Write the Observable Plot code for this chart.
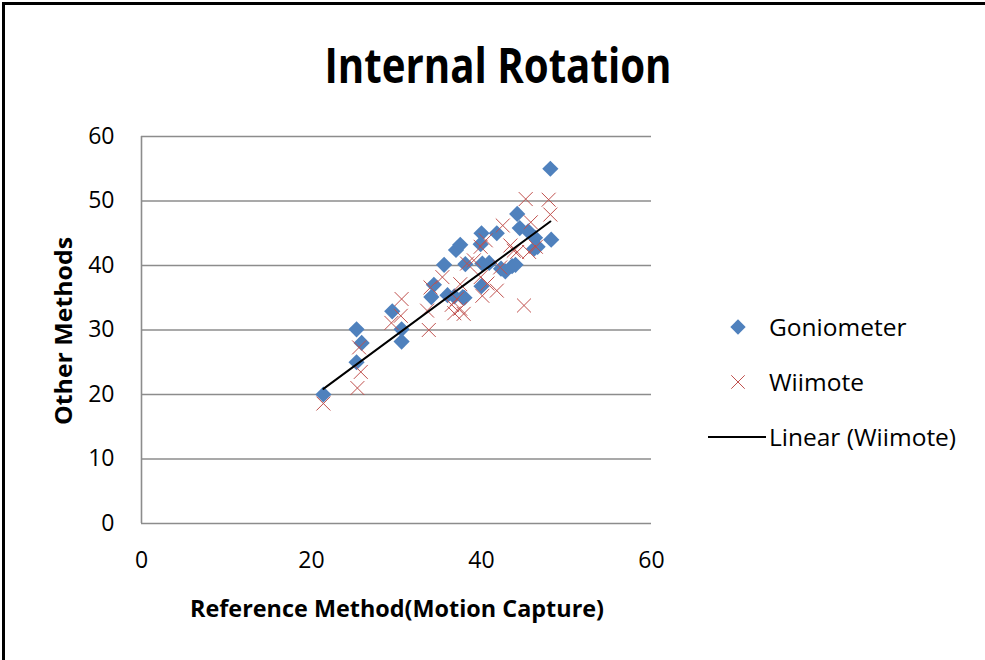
<!DOCTYPE html>
<html>
<head>
<meta charset="utf-8">
<script src="https://cdn.jsdelivr.net/npm/d3@7"></script>
<script src="https://cdn.jsdelivr.net/npm/@observablehq/plot@0.6"></script>
<style>
  html, body { margin: 0; padding: 0; background: #fff; overflow: hidden; }
  #wrap { position: relative; width: 985px; height: 660px; overflow: hidden; background: #fff; }
  #plot { position: absolute; left: 0; top: 0; }
  #overlay { position: absolute; left: 0; top: 0; pointer-events: none; }
  text { font-family: "Open Sans", sans-serif; }
</style>
</head>
<body>
<div id="wrap">
  <div id="plot"></div>
  <svg id="overlay" width="985" height="660"></svg>
</div>
<script>
// ---- Data ----
const chartTitle = "Internal Rotation";
const xLabel = "Reference Method(Motion Capture)";
const yLabel = "Other Methods";
const seriesNames = ["Goniometer", "Wiimote", "Linear (Wiimote)"];

const xTicks = [0, 20, 40, 60];
const yTicks = [0, 10, 20, 30, 40, 50, 60];

const goniometerX = [21.4, 25.3, 25.9, 25.3, 29.5, 30.6, 30.6, 34.1, 34.4, 36.0, 36.8, 37.8, 38.0, 35.6, 38.1, 37.0, 37.5, 39.9, 40.0, 41.8, 40.0, 40.1, 40.9, 42.3, 42.8, 43.6, 44.0, 44.2, 44.5, 45.5, 46.3, 46.2, 46.6, 48.1, 48.2];
const goniometerY = [20.0, 30.1, 28.0, 25.0, 32.9, 30.1, 28.2, 35.1, 37.0, 35.4, 35.2, 35.1, 35.0, 40.1, 40.2, 42.4, 43.2, 43.3, 45.0, 45.0, 36.8, 40.3, 40.4, 39.5, 39.1, 39.9, 40.1, 48.0, 45.8, 45.3, 44.3, 42.6, 42.9, 55.0, 44.0];

const wiimoteX = [21.4, 25.4, 25.8, 25.6, 29.4, 30.5, 30.6, 33.8, 33.6, 34.0, 35.4, 36.5, 36.8, 37.1, 37.5, 37.5, 37.9, 38.3, 39.1, 39.9, 40.1, 40.7, 39.9, 40.5, 41.8, 42.2, 42.5, 43.4, 43.8, 44.2, 45.0, 45.2, 45.6, 45.8, 46.4, 47.9, 48.1];
const wiimoteY = [18.6, 21.0, 23.5, 27.3, 31.1, 32.2, 34.8, 30.0, 33.0, 36.6, 38.2, 33.9, 32.6, 34.8, 33.3, 37.1, 32.5, 40.3, 40.8, 38.2, 35.3, 37.2, 42.9, 43.9, 36.1, 39.7, 46.2, 43.1, 42.3, 42.1, 33.8, 50.3, 42.1, 46.7, 42.9, 50.2, 47.9];

const goniometer = goniometerX.map((x, i) => ({x, y: goniometerY[i]}));
const wiimote = wiimoteX.map((x, i) => ({x, y: wiimoteY[i]}));

const blue = "#4F81BD";
const red = "#C0504D";
const grid = "#8c8c8c";

const chart = Plot.plot({
  width: 985,
  height: 660,
  marginLeft: 141,
  marginRight: 334,
  marginTop: 136,
  marginBottom: 137,
  style: { fontFamily: "Open Sans, sans-serif", fontSize: "23px", color: "#000", background: "transparent" },
  x: { domain: [0, 60], label: null },
  y: { domain: [0, 60], label: null },
  marks: [
    Plot.gridY(yTicks, { stroke: grid, strokeOpacity: 1, strokeWidth: 1.6 }),
    Plot.ruleX([0], { stroke: grid, strokeWidth: 1.6 }),
    Plot.axisY(yTicks, { tickSize: 0, tickPadding: 27, fontSize: 23, label: null }),
    Plot.axisX(xTicks, { tickSize: 0, tickPadding: 28, fontSize: 23, label: null }),
    Plot.dot(goniometer, { x: "x", y: "y", symbol: "diamond2", fill: blue, r: 7.3, stroke: "none" }),
    Plot.dot(wiimote, { x: "x", y: "y", symbol: "times", stroke: red, strokeWidth: 1, r: 6.4 }),
    Plot.linearRegressionY(wiimote, { x: "x", y: "y", ci: 0, stroke: "#000", strokeWidth: 2 })
  ]
});
document.getElementById("plot").appendChild(chart);

// ---- Frame, title, axis titles and legend ----
const ov = d3.select("#overlay");
ov.append("line").attr("x1", 3.5).attr("x2", 3.5).attr("y1", 2).attr("y2", 660)
  .attr("stroke", "#000").attr("stroke-width", 3);
ov.append("line").attr("x1", 2).attr("x2", 985).attr("y1", 3.5).attr("y2", 3.5)
  .attr("stroke", "#000").attr("stroke-width", 3);

ov.append("text")
  .attr("x", 498).attr("y", 83)
  .attr("text-anchor", "middle")
  .attr("font-size", 49).attr("font-weight", "bold")
  .attr("textLength", 347).attr("lengthAdjust", "spacingAndGlyphs")
  .text(chartTitle);

ov.append("text")
  .attr("x", 397).attr("y", 617)
  .attr("text-anchor", "middle")
  .attr("font-size", 23).attr("font-weight", "bold")
  .attr("textLength", 414).attr("lengthAdjust", "spacingAndGlyphs")
  .text(xLabel);

ov.append("text")
  .attr("transform", "translate(72,331) rotate(-90)")
  .attr("text-anchor", "middle")
  .attr("font-size", 23).attr("font-weight", "bold")
  .attr("textLength", 188).attr("lengthAdjust", "spacingAndGlyphs")
  .text(yLabel);

// legend
const lg = ov.append("g");
lg.append("path")
  .attr("d", d3.symbol(d3.symbolDiamond2, 150)())
  .attr("transform", "translate(738,327)")
  .attr("fill", blue);
lg.append("path")
  .attr("d", d3.symbol(d3.symbolTimes, 120)())
  .attr("transform", "translate(738,382)")
  .attr("fill", "none").attr("stroke", red).attr("stroke-width", 1);
lg.append("line")
  .attr("x1", 708).attr("x2", 766).attr("y1", 437).attr("y2", 437)
  .attr("stroke", "#000").attr("stroke-width", 2);
const legendY = [327, 382, 437];
seriesNames.forEach((name, i) => {
  lg.append("text")
    .attr("x", 769).attr("y", legendY[i])
    .attr("dy", "0.35em")
    .attr("font-size", 24.5)
    .text(name);
});
</script>
</body>
</html>
